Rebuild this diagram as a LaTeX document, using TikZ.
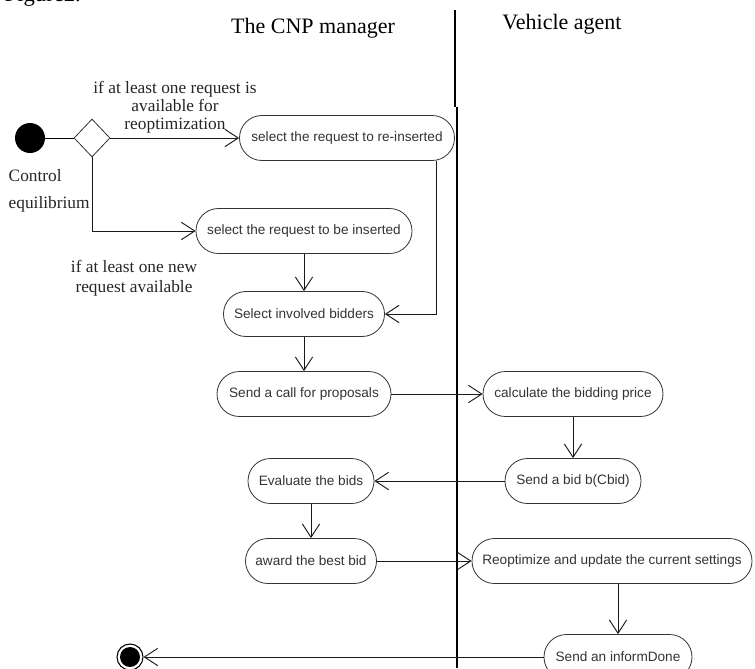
\documentclass[tikz,border=0pt]{standalone}
\usepackage{fontspec}
\setmainfont{Liberation Serif}
\newfontfamily\boxfont{Liberation Sans}
\usetikzlibrary{arrows.meta}
\usetikzlibrary{shapes.geometric}

\begin{document}
\begin{tikzpicture}[
		x=0.75pt, y=-0.75pt,
		thin,
		>={Straight Barb[length=10pt,width=13pt]},
		activity/.style={rectangle, draw=black!80, line width=0.6pt,
			rounded corners=16.8pt, minimum height=33.75pt, inner xsep=1pt,
			minimum width=#1*0.75pt, font=\boxfont\fontsize{10.2}{12}\selectfont, text=black!80},
		flow/.style={->, line width=0.7pt, black!90},
		guard/.style={font=\fontsize{13}{13.5}\selectfont, align=center, text=black!85},
	]
		\useasboundingbox (0,0) rectangle (755,668);
		\clip (0,0) rectangle (755,668);

		% headings
		\node[anchor=base west, font=\fontsize{17}{20}\selectfont] (fig) at (0,1) {Figure2.};
		\node[font=\fontsize{16.5}{19}\selectfont] (mgr) at (313,28) {The CNP manager};
		\node[font=\fontsize{16.5}{19}\selectfont] (vehicle) at (562,24) {Vehicle agent};

		% swimlane border
		\draw[line width=1.6pt] (455,10) -- (455,107);
		\draw[line width=0.8pt] (457,107) -- (457,668);

		% control nodes
		\node[circle, fill=black, minimum size=22.5pt, inner sep=0pt] (start) at (30,138) {};
		\node[diamond, draw=black!80, line width=0.6pt, minimum width=27pt, minimum height=28.5pt, inner sep=0pt] (dec) at (92,138) {};
		\node[circle, draw, line width=0.8pt, minimum size=19.5pt, inner sep=0pt,
			path picture={\fill (path picture bounding box.center) circle (7.5pt);}] (end) at (130,657) {};

		% activities
		\node[activity=215] (reins) at (347,138) {select the request to re-inserted};
		\node[activity=216] (ins) at (304,231) {select the request to be inserted};
		\node[activity=161] (bid) at (304,314) {Select involved bidders};
		\node[activity=174] (call) at (304,394) {Send a call for proposals};
		\node[activity=180] (calc) at (573,394) {calculate the bidding price};
		\node[activity=136] (offer) at (573,481) {Send a bid b(Cbid)};
		\node[activity=126] (eval) at (311,481) {Evaluate the bids};
		\node[activity=131] (award) at (311,561) {award the best bid};
		\node[activity=280] (reopt) at (612,561) {Reoptimize and update the current settings};
		\node[activity=148] (done) at (618,657) {Send an informDone};

		% guards
		\node[guard] (g1) at (175,107) {if at least one request is\\available for\\reoptimization};
		\node[guard, font=\fontsize{13}{15}\selectfont] (g2) at (134,278) {if at least one new\\request available};
		\node[guard, align=left, anchor=west, font=\fontsize{13}{20}\selectfont] (ctrl) at (4,191) {Control\\equilibrium};

		% transitions
		\draw[line width=0.7pt] (start) -- (dec);
		\path [flow] (dec) edge (reins);
		\draw [flow] (dec.south) |- (ins.west);
		\draw [flow] ([xshift=66.75pt]reins.south) |- (bid.east);
		\path [flow] (ins) edge (bid);
		\path [flow] (bid) edge (call);
		\path [flow] (call) edge (calc);
		\path [flow] (calc) edge (offer);
		\path [flow] (offer) edge (eval);
		\path [flow] (eval) edge (award);
		\path [flow] (award) edge (reopt);
		\draw [flow] (done.north |- reopt.south) -- (done.north);
		\path [flow] (done) edge (end);
	\end{tikzpicture}
\end{document}
